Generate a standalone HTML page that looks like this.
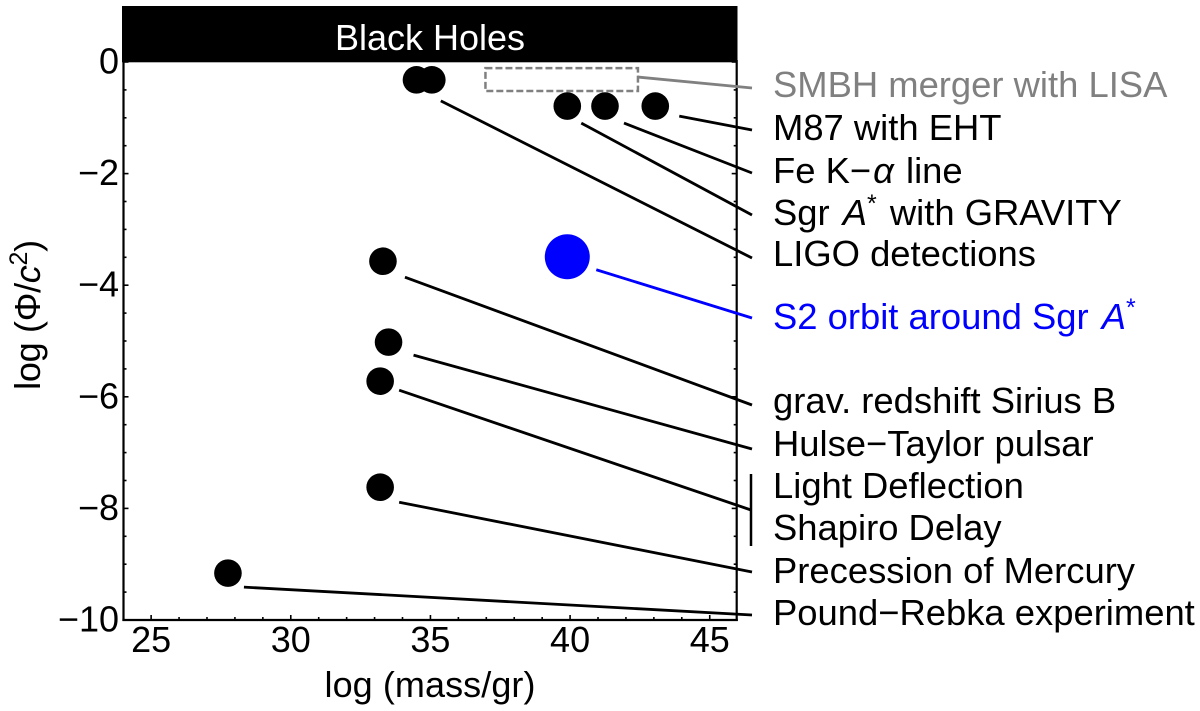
<!DOCTYPE html>
<html lang="en">
<head>
<meta charset="utf-8">
<title>Tests of gravity: potential versus mass</title>
<style>
html,body{margin:0;padding:0;background:#fff;}
svg{display:block;}
text{font-family:"Liberation Sans",Arial,sans-serif;font-size:36px;fill:#000;}
text.row{font-size:36.4px;}
</style>
</head>
<body>
<svg id="chart" xmlns="http://www.w3.org/2000/svg" width="1200" height="711" viewBox="0 0 1200 711">
  <rect x="0" y="0" width="1200" height="711" fill="#fff"/>
  <rect x="122" y="6" width="615.5" height="56.3" fill="#000"/>
  <text x="430" y="50" text-anchor="middle" style="fill:#fff">Black Holes</text>
  <g id="axes"></g>
  <g id="leaders"></g>
  <g id="marks"></g>

  <line x1="751" y1="474" x2="751" y2="546" stroke="#000" stroke-width="2.5"/>

  <text class="row" x="773" y="97" style="fill:#808080">SMBH merger with LISA</text>
  <text class="row" x="773" y="140">M87 with EHT</text>
  <text class="row" x="773" y="183">Fe K&#8722;<tspan font-style="italic" dx="2">α</tspan><tspan dx="2"> line</tspan></text>
  <text class="row" x="773" y="225">Sgr <tspan font-style="italic" dx="3">A</tspan><tspan font-size="25" dy="-13">*</tspan><tspan dy="13" dx="3"> with GRAVITY</tspan></text>
  <text class="row" x="773" y="266">LIGO detections</text>
  <text class="row" x="773" y="329" style="fill:#0000ff">S2 orbit around Sgr <tspan font-style="italic" dx="3" style="fill:#0000ff">A</tspan><tspan font-size="25" dy="-13" style="fill:#0000ff">*</tspan></text>
  <text class="row" x="773" y="413">grav. redshift Sirius B</text>
  <text class="row" x="773" y="456">Hulse&#8722;Taylor pulsar</text>
  <text class="row" x="773" y="498">Light Deflection</text>
  <text class="row" x="773" y="540">Shapiro Delay</text>
  <text class="row" x="773" y="583">Precession of Mercury</text>
  <text class="row" x="773" y="625">Pound&#8722;Rebka experiment</text>

  <text x="430" y="697" text-anchor="middle" textLength="211" lengthAdjust="spacing">log (mass/gr)</text>
  <text transform="translate(40,315) rotate(-90)" text-anchor="middle" letter-spacing="-0.3">log (Φ/<tspan font-style="italic">c</tspan><tspan font-size="25" dy="-13">2</tspan><tspan dy="13">)</tspan></text>
</svg>
<script>
// Chart data
const pointNames = ['pound-rebka', 'mercury', 'light-shapiro', 'hulse-taylor', 'sirius-b', 'ligo-a', 'ligo-b', 'sgr-gravity', 'fe-k-alpha', 'm87-eht'];
const logMass = [27.75, 33.2, 33.2, 33.5, 33.3, 34.5, 35.05, 39.9, 41.25, 43.05];
const logPhi = [-9.16, -7.62, -5.72, -5.02, -3.57, -0.32, -0.32, -0.79, -0.79, -0.79];
const s2Mass = [39.9];
const s2Phi = [-3.49];
const lisaMassRange = [36.97, 42.43];
const lisaPhiRange = [-0.11, -0.52];
const xTickLabels = [25, 30, 35, 40, 45];
const yTickLabels = [0, -2, -4, -6, -8, -10];

const NS = 'http://www.w3.org/2000/svg';
const xAt = function (v) { return 123.2 + (v - 24) * 27.93; };
const yAt = function (v) { return 62 - v * 55.8; };

function svgEl(tag, parent) {
  const el = document.createElementNS(NS, tag);
  parent.appendChild(el);
  return el;
}
function setLine(el, x1, y1, x2, y2, color, width) {
  el.setAttribute('x1', x1);
  el.setAttribute('y1', y1);
  el.setAttribute('x2', x2);
  el.setAttribute('y2', y2);
  el.setAttribute('stroke', color);
  el.setAttribute('stroke-width', width);
}

const axes = document.getElementById('axes');
const leaders = document.getElementById('leaders');
const marks = document.getElementById('marks');

// Axis frame
const leftAxis = svgEl('line', axes);


setLine(leftAxis, 123.5, 60, 123.5, 621, '#000', 2.2);
const rightAxis = svgEl('line', axes);


setLine(rightAxis, 736.7, 60, 736.7, 621, '#000', 2.2);
const bottomAxis = svgEl('line', axes);


setLine(bottomAxis, 122.4, 620, 737.8, 620, '#000', 2.2);

// X ticks: minor every unit, major at labelled values
for (let v = 25; v <= 45; v++) {
  const major = xTickLabels.indexOf(v) >= 0;
  const t = svgEl('line', axes);
  
  
  setLine(t, xAt(v), 620, xAt(v), major ? 615 : 617, '#000', 1.6);
}
xTickLabels.forEach(function (v) {
  const t = svgEl('text', axes);
  
  
  t.setAttribute('x', xAt(v));
  t.setAttribute('y', 652);
  t.setAttribute('text-anchor', 'middle');
  t.textContent = String(v);
});

// Y ticks: minor every half unit, major at labelled values
for (let i = 0; i <= 20; i++) {
  const v = -i / 2;
  const major = yTickLabels.indexOf(v) >= 0;
  const len = major ? 5 : 3;
  const tl = svgEl('line', axes);
  
  
  setLine(tl, 123.5, yAt(v), 123.5 + len, yAt(v), '#000', 1.6);
  const tr = svgEl('line', axes);
  
  
  setLine(tr, 736.7, yAt(v), 736.7 - len, yAt(v), '#000', 1.6);
}
yTickLabels.forEach(function (v) {
  const t = svgEl('text', axes);
  
  
  t.setAttribute('x', 119);
  t.setAttribute('y', yAt(v) + 11.5);
  t.setAttribute('text-anchor', 'end');
  t.textContent = v < 0 ? '\u2212' + Math.abs(v) : String(v);
});

// LISA forecast region
const lisaBox = svgEl('rect', marks);


lisaBox.setAttribute('x', xAt(lisaMassRange[0]));
lisaBox.setAttribute('y', yAt(lisaPhiRange[0]));
lisaBox.setAttribute('width', xAt(lisaMassRange[1]) - xAt(lisaMassRange[0]));
lisaBox.setAttribute('height', yAt(lisaPhiRange[1]) - yAt(lisaPhiRange[0]));
lisaBox.setAttribute('fill', 'none');
lisaBox.setAttribute('stroke', '#808080');
lisaBox.setAttribute('stroke-width', '2.5');
lisaBox.setAttribute('stroke-dasharray', '7 3');

// Black points
logMass.forEach(function (m, i) {
  const c = svgEl('circle', marks);
  
  
  c.setAttribute('cx', xAt(m));
  c.setAttribute('cy', yAt(logPhi[i]));
  c.setAttribute('r', 13.8);
  c.setAttribute('fill', '#000');
});

// Blue S2 point
const s2 = svgEl('circle', marks);


s2.setAttribute('cx', xAt(s2Mass[0]));
s2.setAttribute('cy', yAt(s2Phi[0]));
s2.setAttribute('r', 22.5);
s2.setAttribute('fill', '#0000ff');

// Leader lines: start near a mark, end next to its text label
function drawLeader(name, x1, y1, x2, y2, color) {
  const l = svgEl('line', leaders);
  
  
  setLine(l, x1, y1, x2, y2, color, 2.8);
}
function leaderFromPoint(name, i, dx, dy, endY, endX) {
  drawLeader(name, xAt(logMass[i]) + dx, yAt(logPhi[i]) + dy, endX, endY, '#000');
}
drawLeader('leader-lisa', xAt(lisaMassRange[1]), yAt(-0.27), 752, 88, '#808080');
leaderFromPoint('leader-m87', 9, 24, 10, 130, 752);
leaderFromPoint('leader-fe-k-alpha', 8, 19, 17, 173, 752);
leaderFromPoint('leader-sgr-gravity', 7, 14, 17, 215, 752);
leaderFromPoint('leader-ligo', 6, 9, 21, 258, 752);
drawLeader('leader-s2', xAt(s2Mass[0]) + 29, yAt(s2Phi[0]) + 13, 752, 318, '#0000ff');
leaderFromPoint('leader-sirius-b', 4, 22, 16, 405, 752);
leaderFromPoint('leader-hulse-taylor', 3, 25, 13, 449, 752);
leaderFromPoint('leader-light-shapiro', 2, 19, 9, 510, 751);
leaderFromPoint('leader-mercury', 1, 19, 15, 572, 752);
leaderFromPoint('leader-pound-rebka', 0, 16, 14, 615, 752);
</script>
</body>
</html>
